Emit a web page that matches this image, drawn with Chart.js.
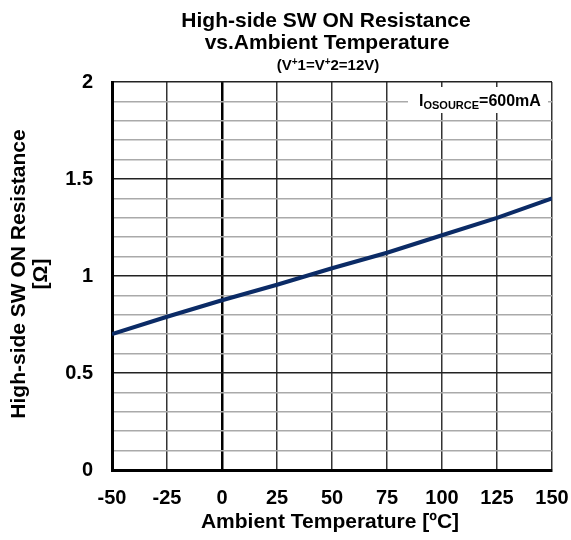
<!DOCTYPE html>
<html><head><meta charset="utf-8">
<script src="https://cdn.jsdelivr.net/npm/chart.js@4/dist/chart.umd.min.js"></script>
<style>html,body{margin:0;padding:0;background:#fff}#wrap{width:571px;height:540px}</style>
</head><body><div id="wrap"><canvas id="c" width="571" height="540"></canvas></div>
<script>
const temperatures = [-50, -25, 0, 25, 50, 75, 100, 125, 150];
const resistance = [0.70, 0.79, 0.875, 0.955, 1.04, 1.12, 1.21, 1.30, 1.40];
const xTicks = [-50, -25, 0, 25, 50, 75, 100, 125, 150];
const yTickLabels = ['0', '0.5', '1', '1.5', '2'];
const FONT = '"Liberation Sans", Arial, sans-serif';

const isMajor = v => Math.abs(v * 2 - Math.round(v * 2)) < 1e-6;

const textPlugin = {
  id: 'texts',
  afterDraw(chart) {
    const ctx = chart.ctx, a = chart.chartArea;
    ctx.save();
    ctx.fillStyle = '#000';
    ctx.textAlign = 'center';
    ctx.textBaseline = 'middle';
    // title
    ctx.font = 'bold 21px ' + FONT;
    ctx.fillText('High-side SW ON Resistance', 326, 21);
    ctx.fillText('vs.Ambient Temperature', 327, 43);
    // subtitle with superscripts
    const parts = [['(V', 15, 0], ['+', 10, -4], ['1=V', 15, 0], ['+', 10, -4], ['2=12V)', 15, 0]];
    let w = 0;
    parts.forEach(p => { ctx.font = 'bold ' + p[1] + 'px ' + FONT; w += ctx.measureText(p[0]).width; });
    let x = 328 - w / 2;
    ctx.textAlign = 'left';
    parts.forEach(p => { ctx.font = 'bold ' + p[1] + 'px ' + FONT; ctx.fillText(p[0], x, 66 + p[2]); x += ctx.measureText(p[0]).width; });
    // x axis title
    ctx.textAlign = 'center';
    ctx.font = 'bold 21px ' + FONT;
    ctx.fillText('Ambient Temperature [ºC]', 330, 522);
    // y axis title
    ctx.save();
    ctx.translate(19, 274);
    ctx.rotate(-Math.PI / 2);
    ctx.font = 'bold 21px ' + FONT;
    ctx.fillText('High-side SW ON Resistance', 0, 0);
    ctx.fillText('[Ω]', 0, 22);
    ctx.restore();
    // annotation box
    ctx.fillStyle = '#fff';
    ctx.fillRect(408, 87, 140, 26);
    ctx.fillStyle = '#000';
    ctx.textAlign = 'left';
    ctx.textBaseline = 'alphabetic';
    let ax = 419;
    ctx.font = 'bold 16px ' + FONT;
    ctx.fillText('I', ax, 106); ax += ctx.measureText('I').width;
    ctx.font = 'bold 11px ' + FONT;
    ctx.fillText('OSOURCE', ax, 109); ax += ctx.measureText('OSOURCE').width;
    ctx.font = 'bold 16px ' + FONT;
    ctx.fillText('=600mA', ax, 106);
    ctx.restore();
  }
};

new Chart(document.getElementById('c'), {
  type: 'line',
  data: {
    datasets: [{
      data: temperatures.map((t, i) => ({ x: t, y: resistance[i] })),
      borderColor: '#0b2b66',
      borderWidth: 4,
      pointRadius: 0,
      tension: 0,
      fill: false
    }]
  },
  options: {
    responsive: false,
    animation: false,
    layout: { padding: { left: 0, top: 82, right: 19, bottom: 0 } },
    plugins: { legend: { display: false }, tooltip: { enabled: false } },
    scales: {
      x: {
        type: 'linear', min: -50, max: 150,
        afterBuildTicks: s => { s.ticks = xTicks.map(v => ({ value: v })); },
        afterFit: s => { s.height = 70; s.paddingLeft = 0; s.paddingRight = 0; },
        ticks: { padding: 16, autoSkip: false, maxRotation: 0, color: '#000', font: { family: FONT, size: 20, weight: 'bold' } },
        grid: {
          drawTicks: false,
          color: c => c.tick && c.tick.value === 0 ? '#000' : '#333',
          lineWidth: c => c.tick && c.tick.value === 0 ? 2.5 : 1.5
        },
        border: { color: '#000', width: 3 }
      },
      y: {
        type: 'linear', min: 0, max: 2,
        ticks: {
          stepSize: 0.1, padding: 19, autoSkip: false, color: '#000',
          font: { family: FONT, size: 20, weight: 'bold' },
          callback: v => isMajor(v) ? yTickLabels[Math.round(v * 2)] : ''
        },
        afterFit: s => { s.width = 112; s.paddingTop = 0; s.paddingBottom = 0; },
        grid: {
          drawTicks: false,
          color: c => c.tick && isMajor(c.tick.value) ? '#222' : '#aaa',
          lineWidth: 1.5
        },
        border: { color: '#000', width: 3 }
      }
    }
  },
  plugins: [textPlugin]
});
</script></body></html>
